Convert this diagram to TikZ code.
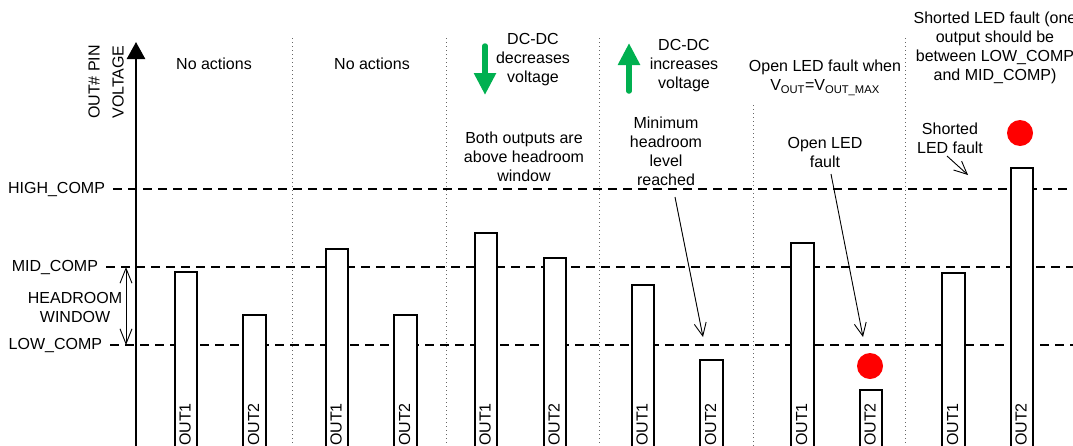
\documentclass[tikz,border=0pt]{standalone}
\usepackage{fontspec}
\setmainfont{Liberation Sans}
\usetikzlibrary{arrows.meta}
\definecolor{ledgreen}{RGB}{0,176,80}
\definecolor{faultred}{RGB}{255,0,0}
\begin{document}
\begin{tikzpicture}[x=1pt,y=-1pt,
  txt/.style={font=\fontsize{16}{19}\selectfont, align=center, inner sep=0pt},
  lvl/.style={font=\fontsize{16}{19}\selectfont, inner sep=0pt, outer xsep=8pt, anchor=east},
  dashline/.style={line width=1.2pt, dash pattern=on 9pt off 6pt},
  sepline/.style={line width=0.9pt, black!60, dash pattern=on 1pt off 3pt},
  bar/.style={draw, fill=white, line width=1.1pt},
  outlbl/.style={font=\fontsize{16}{19}\selectfont, rotate=90, anchor=west, inner sep=0pt},
  note/.style={line width=0.9pt, -{Straight Barb[length=13pt,width=12pt]}},
  greenarrow/.style={ledgreen, line width=5.5pt, line cap=round, -{Triangle[length=22pt,width=21pt]}},
  dot/.style={circle, fill=faultred, minimum size=26pt, inner sep=0pt}
]
\useasboundingbox (0,0) rectangle (1073,445);
\clip (0,0) rectangle (1073,445);

% separators
\foreach \x/\t in {292/38,446/38,599/38,753/105,905/38}
  \draw[sepline] (\x,\t) -- (\x,446);

% level labels and dashed lines
\node[lvl] (high) at (113,189) {HIGH\_COMP};
\node[lvl] (mid) at (106,267) {MID\_COMP};
\node[lvl] (low) at (110,345) {LOW\_COMP};
\coordinate (highR) at (1074,189);
\coordinate (midR) at (1074,267);
\coordinate (lowR) at (1074,345);
\draw[dashline] (high.east) -- (highR);
\draw[dashline] (mid.east) -- (midR);
\draw[dashline] (low.east) -- (lowR);

% headroom window
\node[txt] (hw) at (75,307) {HEADROOM\\WINDOW};
\coordinate (hwT) at (126,267);
\coordinate (hwB) at (126,345);
\draw[line width=0.9pt, {Straight Barb[length=15pt,width=12pt]}-{Straight Barb[length=15pt,width=12pt]}] (hwT) -- (hwB);

% axis
\coordinate (axB) at (136,447);
\coordinate (axT) at (136,42);
\draw[line width=2.5pt, -{Triangle[length=17pt,width=18pt]}] (axB) -- (axT);
\node[font=\fontsize{16}{24}\selectfont, align=center, inner sep=0pt, rotate=90] (ylab) at (106,82) {OUT\# PIN\\VOLTAGE};

% bars
\foreach \a/\b/\t/\l in {175/197/272/1,243/266/315/2,326/348/249/1,394/417/315/2,475/497/233/1,544/566/258/2,632/654/285/1,700/723/360/2,791/814/243/1,860/882/390/2,942/965/273/1,1011/1033/168/2}{
  \draw[bar] (\a,\t) rectangle (\b,448);
  \node[outlbl] (out\a) at ({(\a+\b)/2-1},446) {OUT\l};
}

% texts
\node[txt] (na1) at (214,64) {No actions};
\node[txt] (na2) at (372,64) {No actions};
\node[txt] (dcdec) at (533,60) {DC-DC\\decreases\\voltage};
\node[txt] (dcinc) at (684,66) {DC-DC\\increases\\voltage};
\node[txt] (both) at (524,157) {Both outputs are\\above headroom\\window};
\node[txt] (minh) at (666,151) {Minimum\\headroom\\level\\reached};
\node[txt] (openw) at (825,78) {Open LED fault when\\V\textsubscript{OUT}=V\textsubscript{OUT\_MAX}};
\node[txt] (openf) at (825,152) {Open LED\\fault};
\node[txt] (shortl) at (995,48) {Shorted LED fault (one\\output should be\\between LOW\_COMP\\and MID\_COMP)};
\node[txt] (shorts) at (950,138) {Shorted\\LED fault};

% green arrows
\coordinate (gdS) at (485,46);
\coordinate (gdE) at (485,95);
\draw[greenarrow] (gdS) -- (gdE);
\coordinate (guS) at (629,91);
\coordinate (guE) at (629,43);
\draw[greenarrow] (guS) -- (guE);

% annotation arrows
\coordinate (n1s) at (675,197);
\coordinate (n1e) at (703,337);
\draw[note] (n1s) -- (n1e);
\coordinate (n2s) at (831,174);
\coordinate (n2e) at (863,337);
\draw[note] (n2s) -- (n2e);
\coordinate (n3s) at (947,156);
\coordinate (n3e) at (968,175);
\draw[note] (n3s) -- (n3e);

% fault dots
\node[dot] (d1) at (870,366) {};
\node[dot] (d2) at (1020,133) {};
\end{tikzpicture}
\end{document}
